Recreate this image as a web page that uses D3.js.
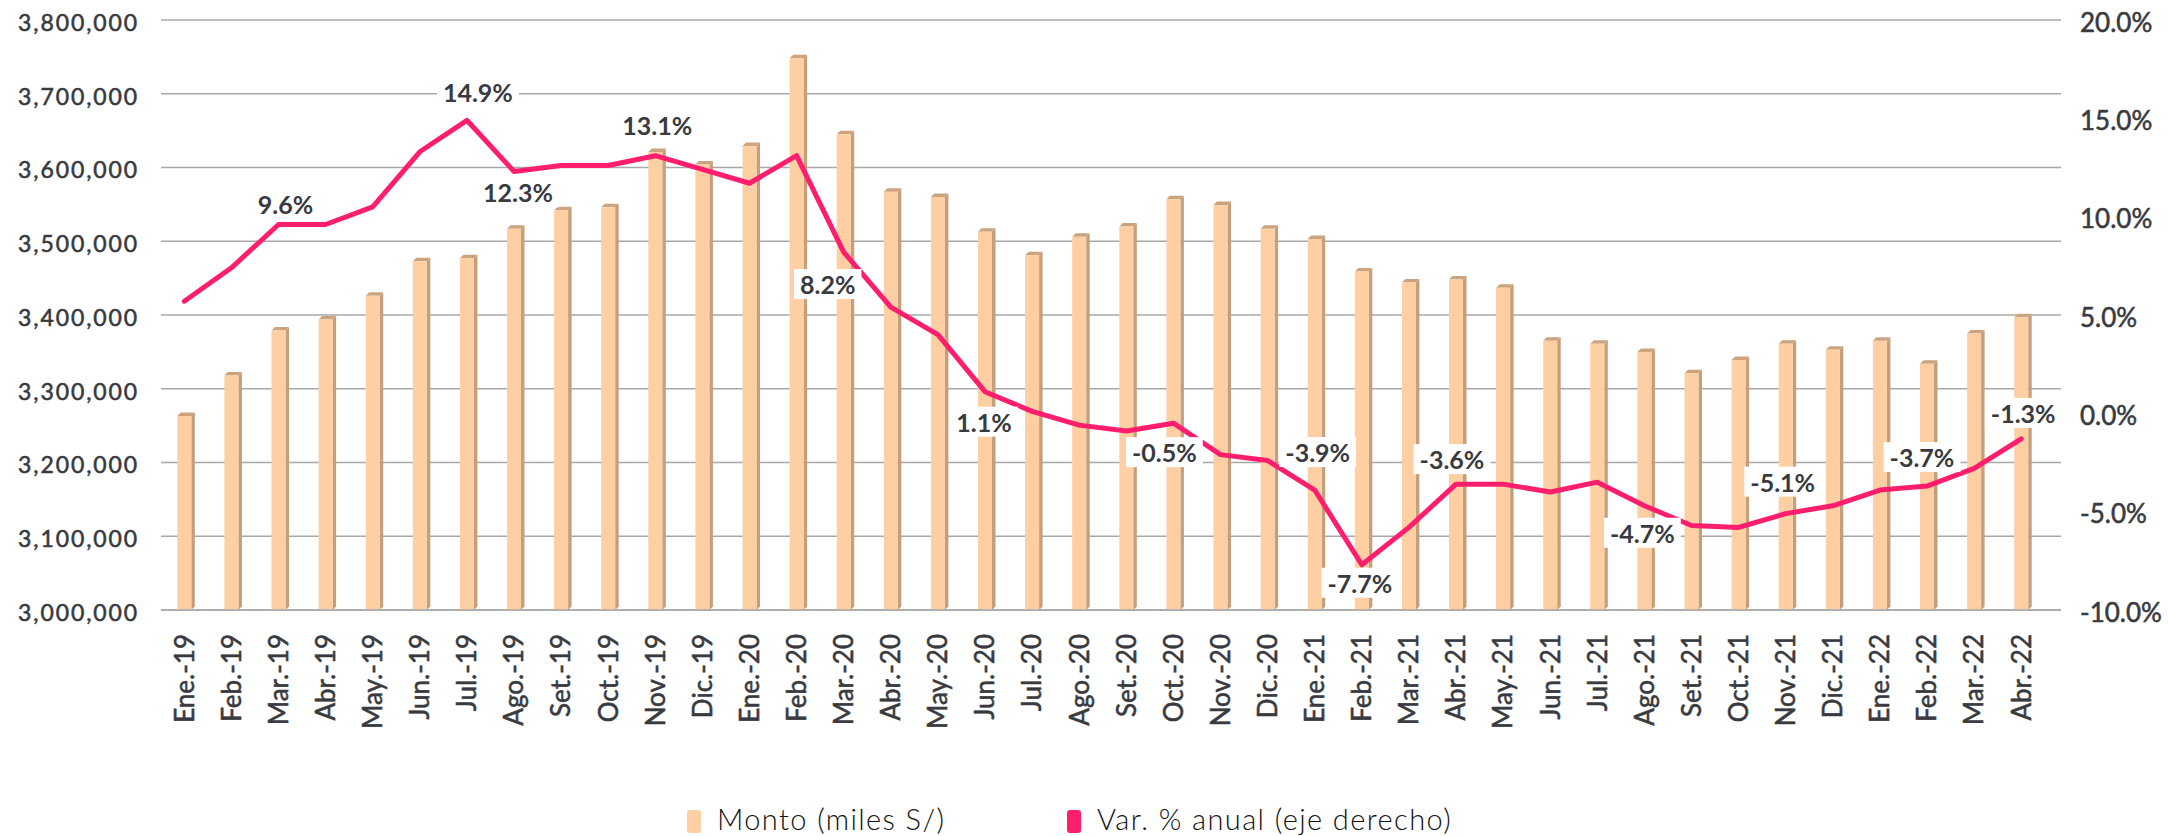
<!DOCTYPE html>
<html>
<head>
<meta charset="utf-8">
<script src="https://cdn.jsdelivr.net/npm/d3@7"></script>
<style>
  html, body { margin: 0; padding: 0; background: #ffffff; }
  svg { display: block; font-family: Lato, "Open Sans", sans-serif; }
</style>
</head>
<body>
<svg id="chart" width="2168" height="836"></svg>
<script>
// Months (Spanish abbreviations) from Jan 2019 to Apr 2022
const categories = [
  "Ene.-19", "Feb.-19", "Mar.-19", "Abr.-19", "May.-19", "Jun.-19",
  "Jul.-19", "Ago.-19", "Set.-19", "Oct.-19", "Nov.-19", "Dic.-19",
  "Ene.-20", "Feb.-20", "Mar.-20", "Abr.-20", "May.-20", "Jun.-20",
  "Jul.-20", "Ago.-20", "Set.-20", "Oct.-20", "Nov.-20", "Dic.-20",
  "Ene.-21", "Feb.-21", "Mar.-21", "Abr.-21", "May.-21", "Jun.-21",
  "Jul.-21", "Ago.-21", "Set.-21", "Oct.-21", "Nov.-21", "Dic.-21",
  "Ene.-22", "Feb.-22", "Mar.-22", "Abr.-22"
];

// Monto (miles S/) – left axis
const montoValues = [
  3263000, 3318000, 3379000, 3394000, 3426000, 3473000,
  3477000, 3517000, 3542000, 3546000, 3621000, 3604000,
  3629000, 3748000, 3645000, 3567000, 3560000, 3513000,
  3481000, 3506000, 3520000, 3557000, 3549000, 3517000,
  3503000, 3459000, 3444000, 3448000, 3437000, 3365000,
  3361000, 3350000, 3321000, 3339000, 3361000, 3353000,
  3365000, 3334000, 3375000, 3397000
];

// Var. % anual – right axis
const varAnual = [
  5.7, 7.4, 9.6, 9.6, 10.5, 13.3,
  14.9, 12.3, 12.6, 12.6, 13.1, 12.4,
  11.7, 13.1, 8.2, 5.4, 4.0, 1.1,
  0.1, -0.6, -0.9, -0.5, -2.1, -2.4,
  -3.9, -7.7, -5.8, -3.6, -3.6, -4.0,
  -3.5, -4.7, -5.7, -5.8, -5.1, -4.7,
  -3.9, -3.7, -2.8, -1.3
];

// Points of the line that carry a value label
const labelledPoints = [2, 6, 7, 10, 14, 17, 21, 24, 25, 27, 31, 34, 37, 39];

// Axis ticks
const leftTicks = [3000000, 3100000, 3200000, 3300000, 3400000, 3500000, 3600000, 3700000, 3800000];
const rightTicks = [-10, -5, 0, 5, 10, 15, 20];

// Legend entries
const legendLabels = ["Monto (miles S/)", "Var. % anual (eje derecho)"];

// ---- layout ----
const plot = { left: 161, right: 2061, top: 20, bottom: 610 };
const barSpan = [160.75, 2044.75];
const colors = {
  barFront: "#FECFA2",
  barSide: "#C59E7A",
  barTop: "#CBA37E",
  line: "#FF1E6E",
  grid: "#A8A8A8",
  text: "#383A40"
};
// label offsets (dx, dy) from the point, in px
const labelOffsets = {
  2: [7, -20], 6: [11, -27], 7: [4, 22], 10: [2, -30], 14: [-16, 33],
  17: [-1, 31], 21: [-9, 30], 24: [3, -37], 25: [-2, 19], 27: [-4, -24],
  31: [-2, 28], 34: [-3, -31], 37: [-5, -28], 39: [2, -25]
};

// number formatting with a plain hyphen for negatives
const locale = d3.formatLocale({ decimal: ".", thousands: ",", grouping: [3], currency: ["", ""], minus: "-" });
const fmtThousands = locale.format(",");
const fmtPct = d => locale.format(".1f")(d) + "%";

const svg = d3.select("#chart");

const x = d3.scaleBand().domain(categories).range(barSpan).padding(0);
const yLeft = d3.scaleLinear().domain([3000000, 3800000]).range([plot.bottom, plot.top]);
const yRight = d3.scaleLinear().domain([-10, 20]).range([plot.bottom, plot.top]);
const cx = c => x(c) + x.bandwidth() / 2;

// slightly heavier axis text
function styleAxisText(sel, size) {
  sel.attr("fill", colors.text)
    .attr("stroke", colors.text)
    .attr("stroke-width", 0.55)
    .style("font-size", size)
    .style("font-family", "Lato, sans-serif");
}

// gridlines
svg.append("g")
  .selectAll("line")
  .data(leftTicks)
  .join("line")
  .attr("x1", plot.left)
  .attr("x2", plot.right)
  .attr("y1", d => yLeft(d))
  .attr("y2", d => yLeft(d))
  .attr("stroke", colors.grid)
  .attr("stroke-width", 1.5);

// left axis labels
const leftAxis = svg.append("g")
  .attr("transform", "translate(139,3)")
  .call(d3.axisLeft(yLeft).tickValues(leftTicks).tickFormat(fmtThousands).tickSize(0).tickPadding(0));
leftAxis.select(".domain").remove();
leftAxis.selectAll("text")
  .call(styleAxisText, "23px")
  .style("letter-spacing", "1.9px");

// right axis labels
const rightAxis = svg.append("g")
  .attr("transform", "translate(2080,3)")
  .call(d3.axisRight(yRight).tickValues(rightTicks).tickFormat(fmtPct).tickSize(0).tickPadding(0));
rightAxis.select(".domain").remove();
rightAxis.selectAll("text").call(styleAxisText, "26px");

// category axis (rotated labels)
const bottomAxis = svg.append("g")
  .attr("transform", `translate(0,${plot.bottom})`)
  .call(d3.axisBottom(x).tickSize(0));
bottomAxis.select(".domain").remove();
bottomAxis.selectAll("text")
  .attr("transform", "rotate(-90)")
  .attr("x", -24)
  .attr("y", 0)
  .attr("dy", "0.36em")
  .style("text-anchor", "end")
  .call(styleAxisText, "26px");

// 3D-style columns
const depth = 3.5, half = 7;
const bars = svg.append("g").selectAll("g")
  .data(categories.map((c, i) => ({ c, v: montoValues[i] })))
  .join("g");

bars.append("polygon")
  .attr("points", d => {
    const xc = cx(d.c), yt = yLeft(d.v), yb = yLeft(3000000);
    return [[xc + half, yt], [xc + half + depth, yt - depth], [xc + half + depth, yb - depth], [xc + half, yb]].join(" ");
  })
  .attr("fill", colors.barSide);

bars.append("polygon")
  .attr("points", d => {
    const xc = cx(d.c), yt = yLeft(d.v);
    return [[xc - half, yt], [xc - half + depth, yt - depth], [xc + half + depth, yt - depth], [xc + half, yt]].join(" ");
  })
  .attr("fill", colors.barTop);

bars.append("rect")
  .attr("x", d => cx(d.c) - half)
  .attr("y", d => yLeft(d.v))
  .attr("width", half * 2)
  .attr("height", d => yLeft(3000000) - yLeft(d.v))
  .attr("fill", colors.barFront);

// bottom axis line
svg.append("line")
  .attr("x1", plot.left).attr("x2", plot.right)
  .attr("y1", plot.bottom).attr("y2", plot.bottom)
  .attr("stroke", colors.grid).attr("stroke-width", 1.5);

// annual variation line
const line = d3.line()
  .x((d, i) => cx(categories[i]))
  .y(d => yRight(d));

svg.append("path")
  .datum(varAnual)
  .attr("d", line)
  .attr("fill", "none")
  .attr("stroke", colors.line)
  .attr("stroke-width", 5)
  .attr("stroke-linejoin", "round")
  .attr("stroke-linecap", "round");

// value labels with white boxes
const labels = svg.append("g");
labelledPoints.forEach(i => {
  const [dx, dy] = labelOffsets[i];
  const g = labels.append("g");
  const t = g.append("text")
    .attr("x", cx(categories[i]) + dx)
    .attr("y", yRight(varAnual[i]) + dy)
    .attr("dy", "0.36em")
    .attr("text-anchor", "middle")
    .attr("fill", colors.text)
    .style("font-size", "25px")
    .style("font-weight", "700")
    .text(fmtPct(varAnual[i]));
  const bb = t.node().getBBox();
  g.insert("rect", "text")
    .attr("x", bb.x - 6)
    .attr("y", bb.y)
    .attr("width", bb.width + 12)
    .attr("height", bb.height)
    .attr("fill", "#ffffff");
});

// legend
const legendX = [687, 1067];
const legendColors = [colors.barFront, colors.line];
const legend = svg.append("g");
legendLabels.forEach((lab, i) => {
  legend.append("rect")
    .attr("x", legendX[i]).attr("y", 810)
    .attr("width", 14).attr("height", 23)
    .attr("rx", 3)
    .attr("fill", legendColors[i]);
  legend.append("text")
    .attr("x", legendX[i] + 30)
    .attr("y", 830)
    .attr("fill", "#111111")
    .style("font-size", "29px")
    .style("font-weight", "300")
    .style("letter-spacing", "1.4px")
    .text(lab);
});
</script>
</body>
</html>
